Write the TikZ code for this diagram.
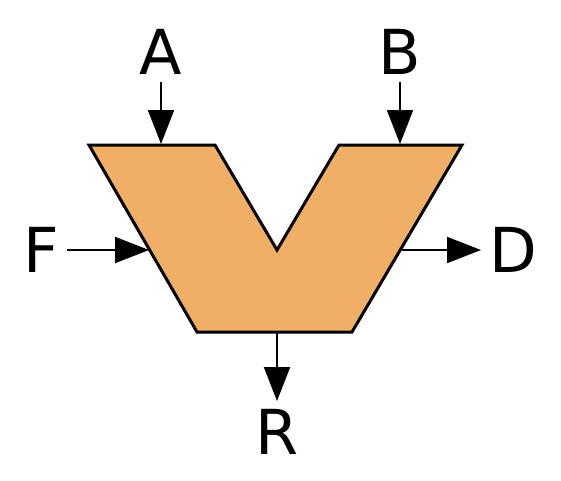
\documentclass[tikz,border=0pt]{standalone}
\usepackage{fontspec}
\setmainfont{DejaVu Sans}
\usetikzlibrary{arrows.meta,positioning}
\definecolor{aluorange}{HTML}{F1AE66}

\begin{document}
\begin{tikzpicture}[x=1pt,y=-1pt,>={Triangle[length=34pt,width=26pt]},
  lbl/.style={inner sep=0pt,outer sep=8pt,font=\fontsize{62}{62}\selectfont}]
  \useasboundingbox (0,0) rectangle (561,480);
  % alu body
  \draw[line width=3pt,fill=aluorange] (89,145) -- (215,145) -- (277,250) -- (339,145)
    -- (462,145) -- (352,332) -- (197,332) -- cycle;
  \coordinate (inA) at (161,144);
  \coordinate (inB) at (400,144);
  \coordinate (inF) at (149,250);
  \coordinate (outD) at (400,250);
  \coordinate (outR) at (277,332);
  \node[lbl,above=62pt of inA] (A) {A};
  \node[lbl,above=62pt of inB] (B) {B};
  \node[lbl,left=82pt of inF] (F) {F};
  \node[lbl,right=81pt of outD] (D) {D};
  \node[lbl,below=69pt of outR] (R) {R};
  \draw[->,line width=2pt] (A) -- (inA);
  \draw[->,line width=2pt] (B) -- (inB);
  \draw[->,line width=2pt] (F) -- (inF);
  \draw[->,line width=2pt] (outD) -- (D);
  \draw[->,line width=2pt] (outR) -- (R);
\end{tikzpicture}
\end{document}
